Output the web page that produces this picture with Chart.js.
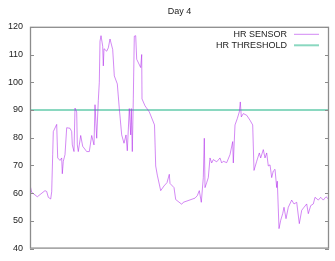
<!DOCTYPE html>
<html>
<head>
<meta charset="utf-8">
<script src="https://cdn.jsdelivr.net/npm/chart.js@4"></script>
<style>
html,body{margin:0;padding:0;background:#fff;}
#wrap{width:335px;height:261px;position:relative;}
</style>
</head>
<body>
<div id="wrap"><canvas id="c" width="335" height="261"></canvas></div>
<script>
const titleText = "Day 4";
const seriesLabels = ["HR SENSOR", "HR THRESHOLD"];
const yTicks = [40, 50, 60, 70, 80, 90, 100, 110, 120];
const threshold = 90;
const timeIdx = [0,1.7,7.3,15,16.7,18.3,20.7,21.7,22.7,23.3,26.7,27.7,30,31.7,32.3,33.3,35,36.7,40,41.7,42.3,44,45,46.7,47.3,48.3,50.7,52.7,56.7,59.3,61.7,64,65,66.7,68.3,69.3,70,71,72.7,73.3,74,76.7,78.3,80,82.7,84.3,87.3,89.3,91.7,94,96,97.3,99.3,100.7,101.3,102.3,103.3,104.3,105.7,106.7,110.7,111.7,112,115,119.3,124.5,125.7,127.3,130.7,134,137,139.3,140,144,145.7,151.7,153.3,165,167.3,169.3,171.3,173.3,174.3,175,176.7,178.3,180,181.7,183.3,186.7,190,191.7,193.3,196.7,200,202.7,203.3,205,207.3,209.3,210.3,211.3,213.3,216.7,220,222.7,224,226.7,229.3,230.7,233.3,235,236.7,238.3,240,241.7,243.3,245,246.7,247.3,249,250.7,252.7,254,256,258.3,261.7,264,266.7,269.3,271.7,274,276.7,278.3,280.7,283.3,285,288.3,290.7,293.3,296,298.3];
const hrSensor = [63,60.3,58.7,60.9,60.6,58.5,57.9,60.5,73.9,82.2,84.8,72.7,71.8,72.7,67,71.5,73.9,83.6,83.4,82.2,77.4,75,90.7,89.3,77.4,75,80.8,76.9,75,75,80.8,77.4,91.9,79.8,93.4,100,114.8,116.8,113,105.9,112.1,111.2,112.4,115.6,111.8,102.3,99.4,90.5,81,78,81,75.3,90.5,81,90.5,75,94,116.6,116.8,108.3,105.3,110,94,91.5,89.3,84.6,69.8,66.5,60.9,62.6,63.8,66.8,63.5,62,57.7,56,56.7,58.2,59.1,60.9,56.7,65.6,79.8,62,63.8,65.6,72.7,70.9,72.1,71.3,72.7,70.9,71.5,71,73.9,78.6,70.9,84.6,86.9,89.3,92.9,87.5,88.7,88.1,86.3,84.6,68.2,71.5,74.5,72.7,75.7,72.7,74.5,69.8,70.2,65.6,68,68.6,62,64.3,47.2,50.2,52.6,54.9,50.8,54.9,57.5,56.1,56.7,49,53.8,54.9,56.1,52.6,55.5,56.1,58.5,57.5,58.5,57.5,58.7,57.9];
const xMin = 0, xMax = 299;

const sensorPts = timeIdx.map((t, i) => ({x: t, y: hrSensor[i]}));
const threshPts = [{x: xMin, y: threshold}, {x: xMax, y: threshold}];

const frameAndTicks = {
  id: 'frameAndTicks',
  afterDatasetsDraw(chart) {
    const {ctx, chartArea: a, scales} = chart;
    ctx.save();
    ctx.strokeStyle = '#8c8c8c';
    ctx.lineWidth = 1;
    ctx.beginPath();
    yTicks.forEach(v => {
      const y = Math.round(scales.y.getPixelForValue(v)) + 0.5;
      ctx.moveTo(a.left, y); ctx.lineTo(a.left + 4, y);
      ctx.moveTo(a.right - 4, y); ctx.lineTo(a.right, y);
    });
    ctx.stroke();
    ctx.lineWidth = 1.3;
    ctx.strokeRect(a.left + 0.5, a.top + 0.5, a.right - a.left - 1, a.bottom - a.top - 1);
    // legend
    ctx.font = '9px "Liberation Sans", Arial, sans-serif';
    ctx.textAlign = 'right';
    ctx.textBaseline = 'middle';
    chart.data.datasets.forEach((ds, i) => {
      const y = a.top + 7.5 + i * 11;
      ctx.fillStyle = '#222';
      ctx.fillText(ds.label, a.right - 42, y);
      ctx.strokeStyle = ds.borderColor;
      ctx.lineWidth = ds.borderWidth;
      ctx.beginPath();
      ctx.moveTo(a.right - 35, y); ctx.lineTo(a.right - 10, y);
      ctx.stroke();
    });
    ctx.restore();
  }
};

new Chart(document.getElementById('c'), {
  type: 'line',
  data: {
    datasets: [
      {label: seriesLabels[0], data: sensorPts, borderColor: 'rgba(175,40,235,0.55)', borderWidth: 1, pointRadius: 0, tension: 0, fill: false},
      {label: seriesLabels[1], data: threshPts, borderColor: '#8ad8c0', borderWidth: 2, pointRadius: 0, tension: 0, fill: false}
    ]
  },
  options: {
    responsive: false,
    animation: false,
    layout: {padding: {left: 0, right: 6, bottom: 5, top: 0}},
    plugins: {
      legend: {display: false},
      tooltip: {enabled: false},
      title: {display: true, text: titleText, fullSize: false, color: '#222',
        font: {family: '"Liberation Sans", Arial, sans-serif', size: 9, weight: 'normal'},
        padding: {top: 6, bottom: 10}}
    },
    scales: {
      x: {type: 'linear', min: xMin, max: xMax, display: false},
      y: {
        type: 'linear', min: 40, max: 120,
        afterFit(s) { s.width = 30; },
        afterBuildTicks(s) { s.ticks = yTicks.map(v => ({value: v})); },
        ticks: {color: '#222', padding: 7, font: {family: '"Liberation Sans", Arial, sans-serif', size: 9}},
        grid: {display: false, drawTicks: false},
        border: {display: false}
      }
    }
  },
  plugins: [frameAndTicks]
});
</script>
</body>
</html>
